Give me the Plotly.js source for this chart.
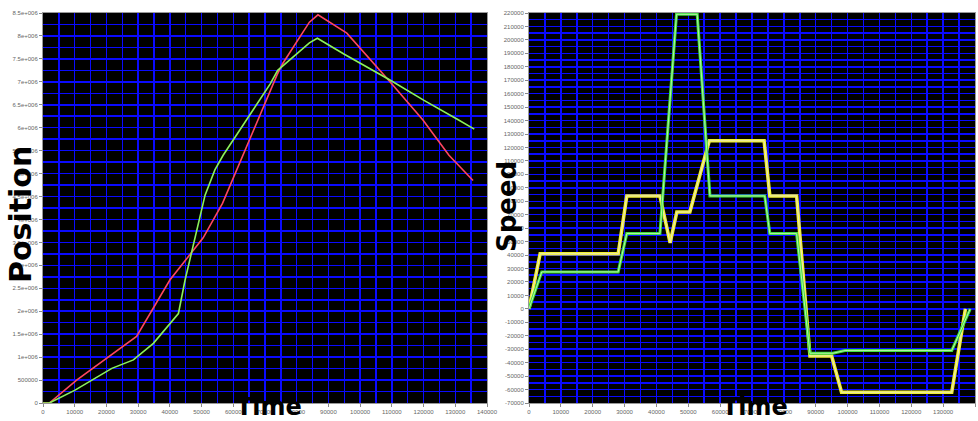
<!DOCTYPE html>
<html>
<head>
<meta charset="utf-8">
<script src="https://cdn.plot.ly/plotly-3.0.1.min.js"></script>
<style>html,body{margin:0;padding:0;background:#fff;}#chart{width:978px;height:421px;}</style>
</head>
<body>
<div id="chart"></div>
<script>
// ---- Left panel: Position vs Time ----
const posTimeRed = [0, 2000, 10600, 21700, 29500, 40000, 50500, 56600, 60000, 70000, 73800, 75600, 84000, 86700, 95800, 109400, 119800, 128000, 135600];
const posRed     = [0, 0, 0.5e6, 1.05e6, 1.45e6, 2.68e6, 3.6e6, 4.35e6, 4.9e6, 6.55e6, 7.15e6, 7.4e6, 8.3e6, 8.46e6, 8.06e6, 7.0e6, 6.17e6, 5.4e6, 4.85e6];
const posTimeGreen = [0, 2000, 10100, 21700, 28500, 34800, 42700, 44800, 51100, 54200, 56800, 62100, 71600, 74000, 84000, 86500, 95000, 109400, 120000, 130500, 136000];
const posGreen     = [0, 0, 0.28e6, 0.755e6, 0.94e6, 1.30e6, 1.95e6, 2.68e6, 4.53e6, 5.08e6, 5.4e6, 5.95e6, 6.95e6, 7.25e6, 7.85e6, 7.95e6, 7.6e6, 7.04e6, 6.6e6, 6.19e6, 5.97e6];

// ---- Right panel: Speed vs Time ----
const spdTimeYellow = [0, 3500, 28000, 30700, 41100, 44300, 46400, 50500, 55200, 56600, 73800, 75600, 84000, 88200, 95000, 98100, 132700, 137000];
const spdYellow     = [0, 41000, 41000, 84000, 84000, 49000, 72000, 72000, 113000, 125000, 125000, 84000, 84000, -35000, -35000, -62000, -62000, 0];
const spdTimeGreen = [0, 4000, 28000, 30700, 41100, 46300, 52800, 56800, 74000, 75600, 84000, 88200, 95400, 99200, 132700, 138500];
const spdGreen     = [0, 27500, 27500, 56000, 56000, 219000, 219000, 84000, 84000, 56000, 56000, -33000, -33000, -31000, -31000, 0];

// ---- Tick labels ----
const timeTicks = [0,10000,20000,30000,40000,50000,60000,70000,80000,90000,100000,110000,120000,130000,140000];
const timeTickText = timeTicks.map(String);
const posTicks = [0,500000,1e6,1.5e6,2e6,2.5e6,3e6,3.5e6,4e6,4.5e6,5e6,5.5e6,6e6,6.5e6,7e6,7.5e6,8e6,8.5e6];
const posTickText = ['0','500000','1e+006','1.5e+006','2e+006','2.5e+006','3e+006','3.5e+006','4e+006','4.5e+006','5e+006','5.5e+006','6e+006','6.5e+006','7e+006','7.5e+006','8e+006','8.5e+006'];
const spdTicks = [];
for (let v = -70000; v <= 220000; v += 10000) spdTicks.push(v);
const spdTickText = spdTicks.map(String);

const traces = [
  {x: posTimeRed, y: posRed, xaxis:'x', yaxis:'y', mode:'lines', line:{color:'#ff4660', width:1.6}, hoverinfo:'skip'},
  {x: posTimeGreen, y: posGreen, xaxis:'x', yaxis:'y', mode:'lines', line:{color:'#8cf25a', width:1.6}, hoverinfo:'skip'},
  {x: spdTimeYellow, y: spdYellow, xaxis:'x2', yaxis:'y2', mode:'lines', line:{color:'#f2f032', width:3.5}, hoverinfo:'skip'},
  {x: spdTimeYellow, y: spdYellow, xaxis:'x2', yaxis:'y2', mode:'lines', line:{color:'#e8e8c0', width:1}, hoverinfo:'skip'},
  {x: spdTimeGreen, y: spdGreen, xaxis:'x2', yaxis:'y2', mode:'lines', line:{color:'#3ee03e', width:3}, hoverinfo:'skip'},
  {x: spdTimeGreen, y: spdGreen, xaxis:'x2', yaxis:'y2', mode:'lines', line:{color:'#b8f0a8', width:1}, hoverinfo:'skip'}
];

const W = 978, H = 421;
const tickFont = {family:'Liberation Sans, Arial, sans-serif', size:6, color:'#666'};
const gridBlue = '#0a0aff';
function xAxis(dom, anchor) {
  return {domain: dom, anchor: anchor, range:[0,140000], tickmode:'array', tickvals: timeTicks, ticktext: timeTickText,
    showgrid:true, gridcolor:gridBlue, gridwidth:1.5,
    minor:{tickmode:'linear', tick0:0, dtick:5000, showgrid:true, gridcolor:gridBlue, gridwidth:1.5},
    ticks:'outside', ticklen:3, tickcolor:'#888', tickfont: tickFont, zeroline:false,
    showline:true, linecolor:'#999', linewidth:1, mirror:true, fixedrange:true};
}
function yAxis(dom, anchor, rng, vals, txt, minorStep) {
  return {domain: dom, anchor: anchor, range: rng, tickmode:'array', tickvals: vals, ticktext: txt,
    showgrid:true, gridcolor:gridBlue, gridwidth:1.5,
    minor:{tickmode:'linear', tick0:0, dtick:minorStep, showgrid:true, gridcolor:gridBlue, gridwidth:1.5},
    ticks:'outside', ticklen:3, tickcolor:'#888', tickfont: tickFont, zeroline:false,
    showline:true, linecolor:'#999', linewidth:1, mirror:true, fixedrange:true};
}
const yDom = [(H-403)/H, (H-13)/H];
const bigFont = {family:'DejaVu Sans, sans-serif', color:'#000', weight:700};

const layout = {
  width: W, height: H,
  margin:{l:0, r:0, t:0, b:0},
  paper_bgcolor:'#ffffff',
  plot_bgcolor:'#000000',
  showlegend:false,
  xaxis: xAxis([43/W, 487/W], 'y'),
  yaxis: yAxis(yDom, 'x', [0, 8.5e6], posTicks, posTickText, 250000),
  xaxis2: xAxis([529/W, 975/W], 'y2'),
  yaxis2: yAxis(yDom, 'x2', [-70000, 220000], spdTicks, spdTickText, 5000),
  annotations: [
    {text:'Position', xref:'paper', yref:'paper', x:20/W, y:1-215/H, xanchor:'center', yanchor:'middle', textangle:-90, showarrow:false, font:Object.assign({size:30}, bigFont)},
    {text:'Speed', xref:'paper', yref:'paper', x:507/W, y:1-207/H, xanchor:'center', yanchor:'middle', textangle:-90, showarrow:false, font:Object.assign({size:26}, bigFont)},
    {text:'Time', xref:'paper', yref:'paper', x:269/W, y:1-407/H, xanchor:'center', yanchor:'middle', showarrow:false, borderpad:0, font:Object.assign({size:24}, bigFont)},
    {text:'Time', xref:'paper', yref:'paper', x:755/W, y:1-407/H, xanchor:'center', yanchor:'middle', showarrow:false, borderpad:0, font:Object.assign({size:24}, bigFont)}
  ]
};

Plotly.newPlot('chart', traces, layout, {staticPlot:true, displayModeBar:false});
</script>
</body>
</html>
